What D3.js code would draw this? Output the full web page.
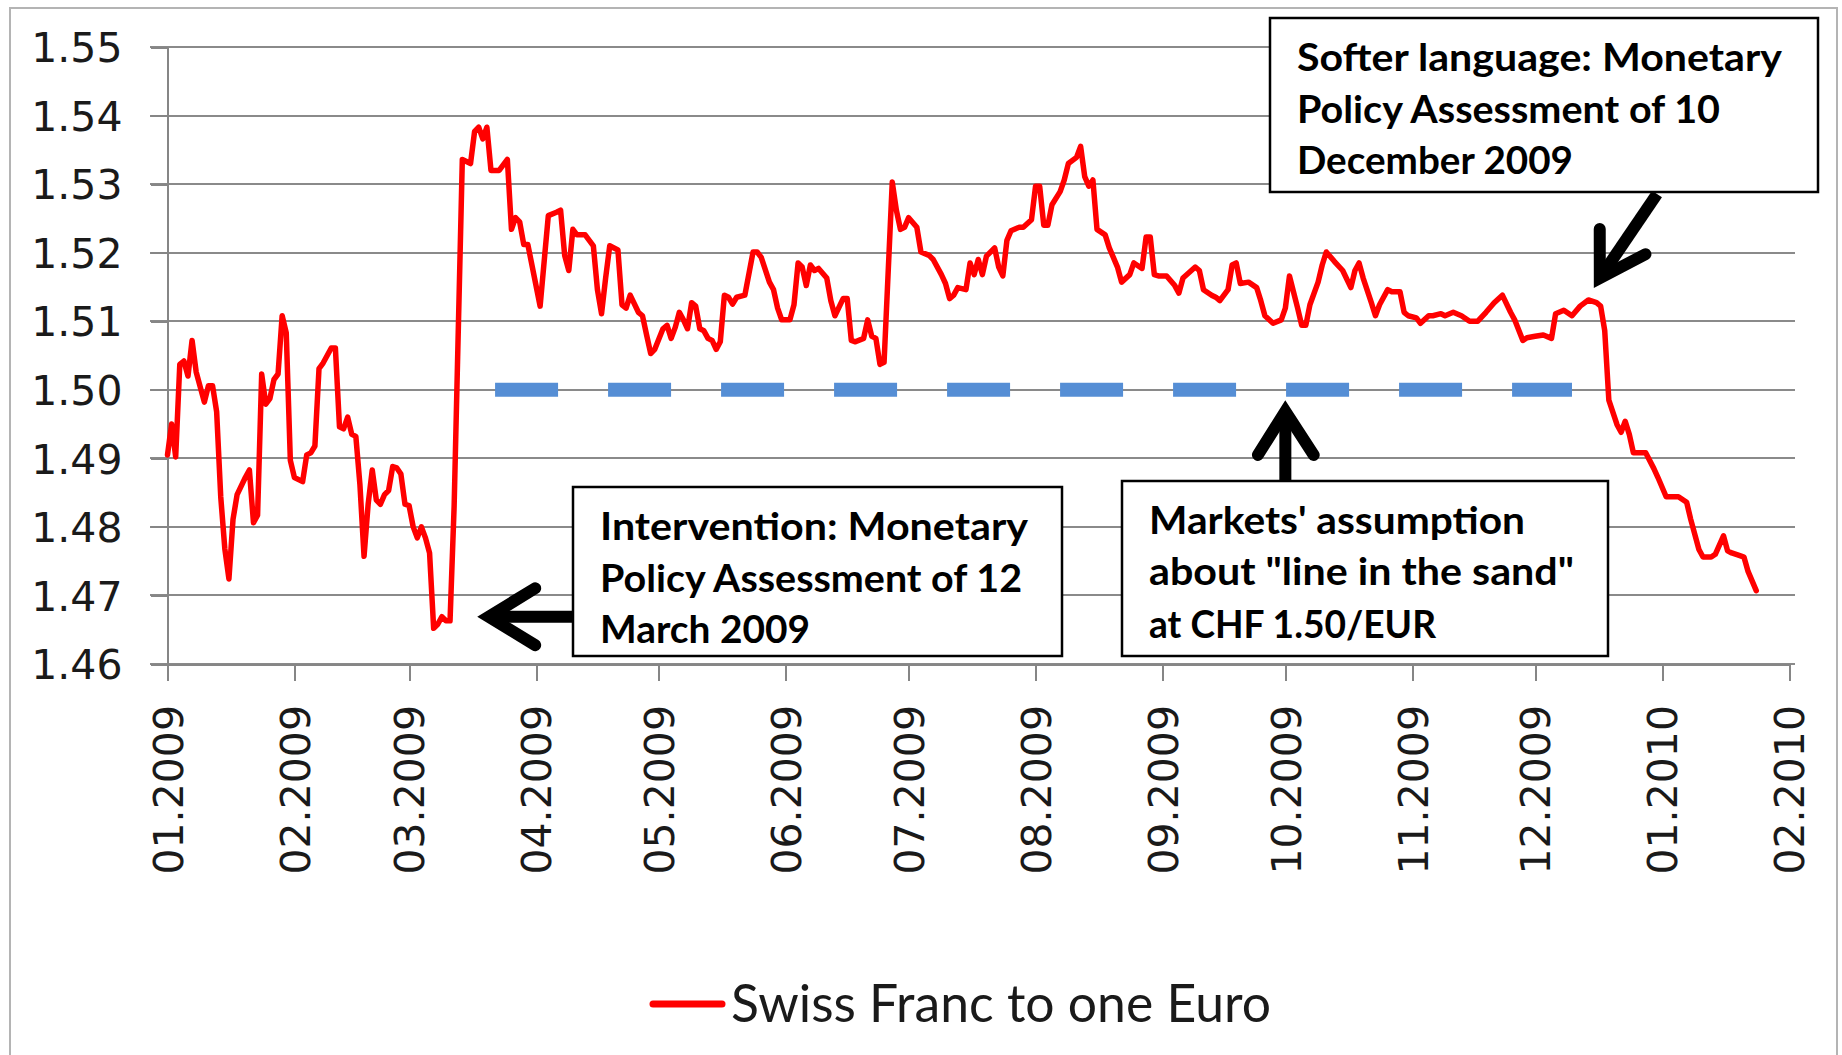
<!DOCTYPE html>
<html lang="en">
<head>
<meta charset="UTF-8">
<title>Swiss Franc to one Euro</title>
<script src="https://d3js.org/d3.v7.min.js"></script>
<style>
    body { margin: 0; background: #fff; }
    .axis path, .axis line { stroke: #868686; stroke-width: 2; shape-rendering: crispEdges; }
    .axis text { font-family: "DejaVu Sans", Verdana, sans-serif; font-size: 41px; fill: #1a1a1a; }
    .note text { font-family: Lato, "Open Sans", sans-serif; font-weight: 700; font-size: 38px; fill: #000; }
    .legend text { font-family: Lato, "Open Sans", sans-serif; font-size: 52px; fill: #1a1a1a; }
</style>
</head>
<body>
<div id="chart"></div>
<script>
// CHF per EUR
const dates = [
    "2009-01-01","2009-01-02","2009-01-03","2009-01-04","2009-01-05","2009-01-06","2009-01-07","2009-01-08","2009-01-10","2009-01-11",
    "2009-01-12","2009-01-13","2009-01-14","2009-01-15","2009-01-16","2009-01-17","2009-01-18","2009-01-20","2009-01-21","2009-01-22",
    "2009-01-23","2009-01-24","2009-01-25","2009-01-26","2009-01-27","2009-01-28","2009-01-29","2009-01-30","2009-01-31","2009-02-01",
    "2009-02-03","2009-02-04","2009-02-05","2009-02-06","2009-02-07","2009-02-08","2009-02-09","2009-02-10","2009-02-11","2009-02-12",
    "2009-02-13","2009-02-14","2009-02-15","2009-02-16","2009-02-17","2009-02-18","2009-02-19","2009-02-20","2009-02-21","2009-02-22",
    "2009-02-23","2009-02-24","2009-02-25","2009-02-26","2009-02-27","2009-02-28","2009-03-01","2009-03-02","2009-03-03","2009-03-04",
    "2009-03-05","2009-03-06","2009-03-07","2009-03-08","2009-03-09","2009-03-10","2009-03-11","2009-03-12","2009-03-14","2009-03-16",
    "2009-03-17","2009-03-18","2009-03-19","2009-03-20","2009-03-21","2009-03-23","2009-03-25","2009-03-26","2009-03-27","2009-03-28",
    "2009-03-29","2009-03-30","2009-04-02","2009-04-04","2009-04-06","2009-04-07","2009-04-08","2009-04-09","2009-04-10","2009-04-11",
    "2009-04-13","2009-04-15","2009-04-16","2009-04-17","2009-04-18","2009-04-19","2009-04-21","2009-04-22","2009-04-23","2009-04-24",
    "2009-04-26","2009-04-27","2009-04-28","2009-04-29","2009-04-30","2009-05-02","2009-05-03","2009-05-04","2009-05-05","2009-05-06",
    "2009-05-07","2009-05-08","2009-05-09","2009-05-10","2009-05-11","2009-05-12","2009-05-13","2009-05-14","2009-05-15","2009-05-16",
    "2009-05-17","2009-05-18","2009-05-19","2009-05-20","2009-05-22","2009-05-24","2009-05-25","2009-05-26","2009-05-28","2009-05-29",
    "2009-05-30","2009-05-31","2009-06-02","2009-06-03","2009-06-04","2009-06-05","2009-06-06","2009-06-07","2009-06-08","2009-06-09",
    "2009-06-11","2009-06-12","2009-06-13","2009-06-15","2009-06-16","2009-06-17","2009-06-18","2009-06-20","2009-06-21","2009-06-22",
    "2009-06-23","2009-06-24","2009-06-25","2009-06-27","2009-06-28","2009-06-29","2009-06-30","2009-07-01","2009-07-03","2009-07-04",
    "2009-07-06","2009-07-07","2009-07-09","2009-07-10","2009-07-11","2009-07-12","2009-07-13","2009-07-15","2009-07-16","2009-07-17",
    "2009-07-18","2009-07-19","2009-07-20","2009-07-22","2009-07-23","2009-07-24","2009-07-25","2009-07-26","2009-07-28","2009-07-29",
    "2009-07-31","2009-08-01","2009-08-02","2009-08-03","2009-08-04","2009-08-05","2009-08-07","2009-08-08","2009-08-09","2009-08-11",
    "2009-08-12","2009-08-13","2009-08-14","2009-08-15","2009-08-16","2009-08-18","2009-08-19","2009-08-21","2009-08-22","2009-08-24",
    "2009-08-25","2009-08-27","2009-08-28","2009-08-29","2009-08-30","2009-08-31","2009-09-02","2009-09-04","2009-09-05","2009-09-06",
    "2009-09-09","2009-09-10","2009-09-11","2009-09-13","2009-09-14","2009-09-15","2009-09-17","2009-09-18","2009-09-19","2009-09-20",
    "2009-09-22","2009-09-24","2009-09-25","2009-09-26","2009-09-28","2009-09-30","2009-10-01","2009-10-02","2009-10-04","2009-10-05",
    "2009-10-06","2009-10-07","2009-10-09","2009-10-10","2009-10-11","2009-10-13","2009-10-15","2009-10-17","2009-10-18","2009-10-19",
    "2009-10-20","2009-10-22","2009-10-23","2009-10-24","2009-10-26","2009-10-27","2009-10-29","2009-10-30","2009-10-31","2009-11-02",
    "2009-11-03","2009-11-05","2009-11-06","2009-11-08","2009-11-09","2009-11-11","2009-11-13","2009-11-15","2009-11-17","2009-11-19",
    "2009-11-21","2009-11-23","2009-11-25","2009-11-26","2009-11-28","2009-11-29","2009-12-01","2009-12-03","2009-12-05","2009-12-06",
    "2009-12-08","2009-12-10","2009-12-12","2009-12-14","2009-12-16","2009-12-17","2009-12-18","2009-12-19","2009-12-21","2009-12-22",
    "2009-12-23","2009-12-24","2009-12-25","2009-12-28","2009-12-30","2009-12-31","2010-01-02","2010-01-05","2010-01-07","2010-01-08",
    "2010-01-10","2010-01-11","2010-01-13","2010-01-14","2010-01-16","2010-01-17","2010-01-18","2010-01-20","2010-01-21","2010-01-22",
    "2010-01-24"
];
const rates = [
    1.4905,1.4950,1.4902,1.5037,1.5042,1.5020,1.5072,1.5026,1.4982,1.5006,
    1.5006,1.4968,1.4844,1.4768,1.4724,1.4811,1.4847,1.4872,1.4883,1.4806,
    1.4817,1.5023,1.4979,1.4987,1.5015,1.5023,1.5108,1.5083,1.4897,1.4872,
    1.4866,1.4905,1.4908,1.4918,1.5031,1.5039,1.5050,1.5061,1.5061,1.4946,
    1.4943,1.4960,1.4935,1.4932,1.4861,1.4757,1.4833,1.4883,1.4839,1.4833,
    1.4847,1.4853,1.4888,1.4886,1.4877,1.4833,1.4831,1.4800,1.4784,1.4800,
    1.4784,1.4762,1.4652,1.4658,1.4669,1.4663,1.4663,1.4830,1.5336,1.5330,
    1.5377,1.5383,1.5366,1.5383,1.5320,1.5320,1.5336,1.5234,1.5251,1.5245,
    1.5212,1.5212,1.5122,1.5254,1.5259,1.5262,1.5196,1.5174,1.5234,1.5226,
    1.5226,1.5210,1.5146,1.5111,1.5163,1.5210,1.5204,1.5124,1.5119,1.5138,
    1.5113,1.5108,1.5080,1.5053,1.5059,1.5089,1.5094,1.5075,1.5091,1.5113,
    1.5102,1.5089,1.5127,1.5122,1.5089,1.5086,1.5075,1.5072,1.5059,1.5070,
    1.5138,1.5135,1.5125,1.5135,1.5138,1.5201,1.5201,1.5193,1.5157,1.5146,
    1.5119,1.5102,1.5102,1.5124,1.5185,1.5179,1.5152,1.5182,1.5174,1.5177,
    1.5163,1.5130,1.5108,1.5133,1.5133,1.5072,1.5070,1.5075,1.5102,1.5078,
    1.5075,1.5037,1.5040,1.5303,1.5262,1.5234,1.5237,1.5251,1.5237,1.5201,
    1.5196,1.5190,1.5168,1.5155,1.5133,1.5138,1.5149,1.5146,1.5185,1.5168,
    1.5190,1.5168,1.5195,1.5207,1.5179,1.5166,1.5218,1.5232,1.5237,1.5237,
    1.5248,1.5297,1.5297,1.5240,1.5240,1.5270,1.5289,1.5306,1.5330,1.5339,
    1.5355,1.5311,1.5297,1.5306,1.5234,1.5226,1.5207,1.5179,1.5157,1.5168,
    1.5185,1.5177,1.5223,1.5223,1.5168,1.5166,1.5166,1.5152,1.5141,1.5163,
    1.5179,1.5174,1.5146,1.5138,1.5135,1.5130,1.5146,1.5182,1.5185,1.5155,
    1.5157,1.5149,1.5130,1.5108,1.5097,1.5102,1.5119,1.5166,1.5119,1.5094,
    1.5094,1.5124,1.5157,1.5182,1.5201,1.5187,1.5174,1.5149,1.5174,1.5185,
    1.5163,1.5127,1.5108,1.5124,1.5146,1.5143,1.5143,1.5113,1.5108,1.5105,
    1.5097,1.5108,1.5108,1.5111,1.5108,1.5113,1.5108,1.5100,1.5100,1.5113,
    1.5127,1.5138,1.5113,1.5102,1.5072,1.5076,1.5078,1.5080,1.5075,1.5111,
    1.5116,1.5108,1.5122,1.5131,1.5127,1.5122,1.5086,1.4985,1.4949,1.4938,
    1.4954,1.4935,1.4908,1.4908,1.4885,1.4872,1.4844,1.4844,1.4836,1.4811,
    1.4767,1.4756,1.4756,1.4760,1.4787,1.4765,1.4762,1.4758,1.4756,1.4735,
    1.4707
];

const yTicks = [1.46, 1.47, 1.48, 1.49, 1.50, 1.51, 1.52, 1.53, 1.54, 1.55];
const xDomain = ["2009-01-01", "2010-02-01"];

// the assumed floor, drawn dashed
const sandFrom = "2009-03-22";
const sandTo = "2009-12-10";
const sandLevel = 1.50;

const legendLabel = "Swiss Franc to one Euro";

const noteLines = [
    ["Intervention: Monetary", "Policy Assessment of 12", "March 2009"],
    ["Markets' assumption", "about \"line in the sand\"", "at CHF 1.50/EUR"],
    ["Softer language: Monetary", "Policy Assessment of 10", "December 2009"]
];
// where each arrow points (date, rate)
const noteTargets = [
    ["2009-03-17", 1.4669],
    ["2009-10-01", 1.4989],
    ["2009-12-15", 1.5147]
];

// layout of the note boxes, in pixels
const noteLayout = [
    { box: [573, 487, 1062, 656], tx: 600, base: [540, 592, 643], len: [428, 422, 210],
      wings: [[66, -31], [66, 31]], tail: [573, null] },
    { box: [1122, 481, 1608, 656], tx: 1149, base: [534, 585, 638], len: [376, 425, 287],
      wings: [[-30, 63], [31, 63]], tail: [null, 483] },
    { box: [1270, 18, 1818, 192], tx: 1297, base: [71, 123, 174], len: [485, 423, 276],
      wings: [[8, -66], [58, -38]], tail: [1657, 194] }
];

const W = 1842, H = 1055;
const parse = d3.utcParse("%Y-%m-%d");

const svg = d3.select("#chart")
    .append("svg")
    .attr("width", W)
    .attr("height", H)
    .style("display", "block");

svg.append("rect")
    .attr("width", W).attr("height", H)
    .attr("fill", "#fff");

// outer frame
svg.append("rect")
    .attr("x", 10).attr("y", 8)
    .attr("width", 1827).attr("height", 1060)
    .attr("fill", "none")
    .attr("stroke", "#b4b4b4")
    .attr("stroke-width", 2);

const x = d3.scaleUtc()
    .domain(xDomain.map(parse))
    .range([167.5, 1789]);

const y = d3.scaleLinear()
    .domain([1.46, 1.55])
    .range([664, 47]);

// gridlines
svg.append("g")
    .selectAll("line")
    .data(yTicks)
    .join("line")
    .attr("x1", 150)
    .attr("x2", 1795)
    .attr("y1", d => y(d))
    .attr("y2", d => y(d))
    .attr("stroke", "#8a8a8a")
    .attr("stroke-width", 2)
    .attr("shape-rendering", "crispEdges");

// y axis
svg.append("g")
    .attr("class", "axis")
    .attr("transform", "translate(167.5,0)")
    .call(d3.axisLeft(y).tickValues(yTicks).tickFormat(d3.format(".2f"))
        .tickSize(17).tickSizeOuter(0).tickPadding(28))
    .selectAll("text")
    .attr("dy", "0.36em");

// x axis
const xAxis = svg.append("g")
    .attr("class", "axis")
    .attr("transform", "translate(0,664)")
    .call(d3.axisBottom(x).ticks(d3.utcMonth.every(1)).tickFormat(d3.utcFormat("%m.%Y"))
        .tickSize(17).tickSizeOuter(0));

xAxis.selectAll("text")
    .attr("transform", "rotate(-90)")
    .attr("x", -41)
    .attr("y", 0)
    .attr("dy", "0.36em")
    .style("text-anchor", "end");

// dashed 1.50 line
svg.append("line")
    .attr("x1", x(parse(sandFrom)))
    .attr("x2", x(parse(sandTo)))
    .attr("y1", y(sandLevel))
    .attr("y2", y(sandLevel))
    .attr("stroke", "#558ed5")
    .attr("stroke-width", 14)
    .attr("stroke-dasharray", "63,50");

// the rate
const series = dates.map((d, i) => ({ date: parse(d), value: rates[i] }));

const line = d3.line()
    .x(d => x(d.date))
    .y(d => y(d.value));

svg.append("path")
    .datum(series)
    .attr("d", line)
    .attr("fill", "none")
    .attr("stroke", "#ff0000")
    .attr("stroke-width", 5.5)
    .attr("stroke-linejoin", "round")
    .attr("stroke-linecap", "round");

// notes and arrows
const AW = 12;
noteLayout.forEach((L, i) => {
    const g = svg.append("g").attr("class", "note");
    const [bx0, by0, bx1, by1] = L.box;

    const tip = [x(parse(noteTargets[i][0])), y(noteTargets[i][1])];
    const tail = [L.tail[0] == null ? tip[0] : L.tail[0], L.tail[1] == null ? tip[1] : L.tail[1]];

    // push the path vertex back so the mitred point lands on the tip
    const dx = tail[0] - tip[0], dy = tail[1] - tip[1];
    const dl = Math.hypot(dx, dy);
    const ux = dx / dl, uy = dy / dl;
    const w0 = L.wings[0];
    const cosA = (w0[0] * ux + w0[1] * uy) / Math.hypot(w0[0], w0[1]);
    const half = Math.acos(cosA);
    const back = (AW / 2) / Math.sin(half);
    const v = [tip[0] + ux * back, tip[1] + uy * back];

    g.append("line")
        .attr("x1", v[0]).attr("y1", v[1])
        .attr("x2", tail[0]).attr("y2", tail[1])
        .attr("stroke", "#000")
        .attr("stroke-width", AW);

    const ends = L.wings.map(o => {
        const ol = Math.hypot(o[0], o[1]);
        return [tip[0] + o[0] - o[0] / ol * AW / 2, tip[1] + o[1] - o[1] / ol * AW / 2];
    });
    g.append("path")
        .attr("d", `M${ends[0][0]},${ends[0][1]}L${v[0]},${v[1]}L${ends[1][0]},${ends[1][1]}`)
        .attr("fill", "none")
        .attr("stroke", "#000")
        .attr("stroke-width", AW)
        .attr("stroke-linejoin", "miter")
        .attr("stroke-miterlimit", 10)
        .attr("stroke-linecap", "round");

    g.append("rect")
        .attr("x", bx0).attr("y", by0)
        .attr("width", bx1 - bx0).attr("height", by1 - by0)
        .attr("fill", "#fff")
        .attr("stroke", "#000")
        .attr("stroke-width", 2.5);

    g.selectAll("text")
        .data(noteLines[i])
        .join("text")
        .attr("x", L.tx)
        .attr("y", (d, j) => L.base[j])
        .attr("textLength", (d, j) => L.len[j])
        .attr("lengthAdjust", "spacingAndGlyphs")
        .text(d => d);
});

// legend
const legend = svg.append("g").attr("class", "legend");
legend.append("line")
    .attr("x1", 653).attr("x2", 722)
    .attr("y1", 1004).attr("y2", 1004)
    .attr("stroke", "#ff0000")
    .attr("stroke-width", 7)
    .attr("stroke-linecap", "round");
legend.append("text")
    .attr("x", 731)
    .attr("y", 1022)
    .attr("textLength", 540)
    .attr("lengthAdjust", "spacingAndGlyphs")
    .text(legendLabel);
</script>
</body>
</html>
